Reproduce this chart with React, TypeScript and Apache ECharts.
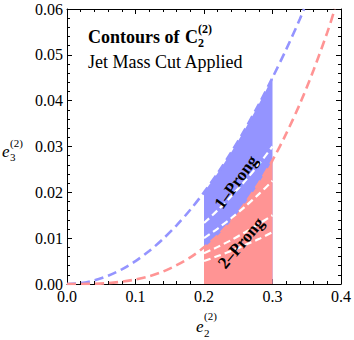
import React, { useEffect, useRef } from "react";
import * as echarts from "echarts";

// Blue dashed contour (upper 1-prong boundary)
const BLUE_X = [0, 0.02, 0.04, 0.06, 0.08, 0.1, 0.12, 0.14, 0.16, 0.18, 0.2, 0.22, 0.24, 0.26, 0.28, 0.3, 0.32, 0.34, 0.346];
const BLUE_Y = [0, 0.0002, 0.0008, 0.0018, 0.0032, 0.005, 0.0072, 0.0098, 0.0128, 0.0162, 0.02, 0.0242, 0.0288, 0.0338, 0.0392, 0.045, 0.0512, 0.0578, 0.06];
// Red dashed contour (1-prong / 2-prong boundary)
const RED_X = [0, 0.02, 0.04, 0.06, 0.08, 0.1, 0.12, 0.14, 0.16, 0.18, 0.2, 0.22, 0.24, 0.26, 0.28, 0.3, 0.32, 0.34, 0.36, 0.38, 0.391];
const RED_Y = [0, 0.00001, 0.00006, 0.0002, 0.0005, 0.001, 0.0017, 0.0027, 0.0041, 0.0058, 0.008, 0.0106, 0.0138, 0.0176, 0.022, 0.027, 0.0328, 0.0393, 0.0467, 0.0549, 0.06];
// Jet mass cut window
const CUT_X = [0.2, 0.22, 0.24, 0.26, 0.28, 0.3];
const CUT_BLUE = [0.02, 0.0242, 0.0288, 0.0338, 0.0392, 0.045];
const CUT_RED = [0.008, 0.0106, 0.0138, 0.0176, 0.022, 0.027];
// White dashed C2 contours inside the window
const C2_A = [0.0133, 0.0161, 0.0192, 0.0225, 0.0261, 0.03];
const C2_B = [0.01, 0.0121, 0.0144, 0.0169, 0.0196, 0.0225];
const C2_C = [0.0067, 0.0081, 0.0096, 0.0113, 0.0131, 0.015];
const C2_D = [0.005, 0.0061, 0.0072, 0.0085, 0.0098, 0.0113];

const X_TICKS = { min: 0, max: 0.4, interval: 0.1 };
const Y_TICKS = { min: 0, max: 0.06, interval: 0.01 };

const BLUE = "#9494ff";
const RED = "#ff9494";
const SERIF = "Liberation Serif";

const pairs = (xs: number[], ys: number[]) => xs.map((x, i) => [x, ys[i]]);

export default function App() {
  const ref = useRef<HTMLDivElement>(null);
  useEffect(() => {
    document.body.style.margin = "0";
    const chart = echarts.init(ref.current!, undefined, { renderer: "svg" });
    const axisCommon = {
      type: "value" as const,
      axisLine: { show: true, onZero: false, lineStyle: { color: "#000", width: 1 } },
      axisTick: { show: true, inside: true, length: 5, lineStyle: { color: "#000", width: 1 } },
      minorTick: { show: true, splitNumber: 5, length: 3, lineStyle: { color: "#000", width: 1 } },
      splitLine: { show: false },
    };
    const dashed = (name: string, xs: number[], ys: number[], color: string) => ({
      name,
      type: "line",
      data: pairs(xs, ys),
      smooth: 0.3,
      symbol: "none",
      lineStyle: { color, width: 2.6, type: [9, 5] },
      silent: true,
    });
    const white = (name: string, ys: number[]) => ({
      name,
      type: "line",
      data: pairs(CUT_X, ys),
      smooth: 0.3,
      symbol: "none",
      lineStyle: { color: "#fff", width: 2.2, type: [7, 4] },
      silent: true,
    });
    const area = (name: string, ys: number[], color: string) => ({
      name,
      type: "line",
      data: pairs(CUT_X, ys),
      smooth: 0.3,
      symbol: "none",
      lineStyle: { width: 0, color },
      areaStyle: { color, opacity: 1 },
      silent: true,
    });
    const txt = (text: string, x: number, y: number, size: number, opts: any = {}) => ({
      type: "text",
      x,
      y,
      rotation: opts.rotation || 0,
      style: {
        text,
        fill: "#000",
        fontFamily: SERIF,
        fontSize: size,
        fontWeight: opts.bold ? "bold" : "normal",
        fontStyle: opts.italic ? "italic" : "normal",
        align: opts.align || "left",
        verticalAlign: "middle",
      },
      z: 100,
    });
    chart.setOption({
      animation: false,
      textStyle: { fontFamily: SERIF },
      grid: { left: 67, right: 11, top: 9, bottom: 56 },
      xAxis: [
        {
          ...axisCommon,
          position: "bottom",
          ...X_TICKS,
          axisLabel: {
            color: "#000",
            fontFamily: SERIF,
            fontSize: 16,
            margin: 4,
            formatter: (v: number) => v.toFixed(1),
          },
        },
        { ...axisCommon, position: "top", ...X_TICKS, axisLabel: { show: false } },
      ],
      yAxis: [
        {
          ...axisCommon,
          position: "left",
          ...Y_TICKS,
          axisLabel: {
            color: "#000",
            fontFamily: SERIF,
            fontSize: 16,
            margin: 4,
            formatter: (v: number) => v.toFixed(2),
          },
        },
        { ...axisCommon, position: "right", ...Y_TICKS, axisLabel: { show: false } },
      ],
      series: [
        dashed("blueContour", BLUE_X, BLUE_Y, BLUE),
        dashed("redContour", RED_X, RED_Y, RED),
        area("oneProng", CUT_BLUE, BLUE),
        area("twoProng", CUT_RED, RED),
        white("c2a", C2_A),
        white("c2b", C2_B),
        white("c2c", C2_C),
        white("c2d", C2_D),
      ],
      graphic: [
        txt("Contours of", 88, 37, 18, { bold: true }),
        txt("C", 185, 37, 18, { bold: true }),
        txt("2", 198, 43, 12, { bold: true }),
        txt("(2)", 198, 29, 12, { bold: true }),
        txt("Jet Mass Cut Applied", 88, 62, 18),
        txt("1\u2013Prong", 236, 182, 17, { bold: true, align: "center", rotation: 0.94 }),
        txt("2\u2013Prong", 241, 243, 17, { bold: true, align: "center", rotation: 0.87 }),
        txt("e", 196, 326, 17, { italic: true }),
        txt("2", 204, 333, 11),
        txt("(2)", 204, 316, 11),
        txt("e", 2, 151, 17, { italic: true }),
        txt("3", 10, 157, 11),
        txt("(2)", 10, 143, 11),
      ],
    });
    return () => chart.dispose();
  }, []);
  return <div ref={ref} style={{ width: 354, height: 340 }} />;
}
